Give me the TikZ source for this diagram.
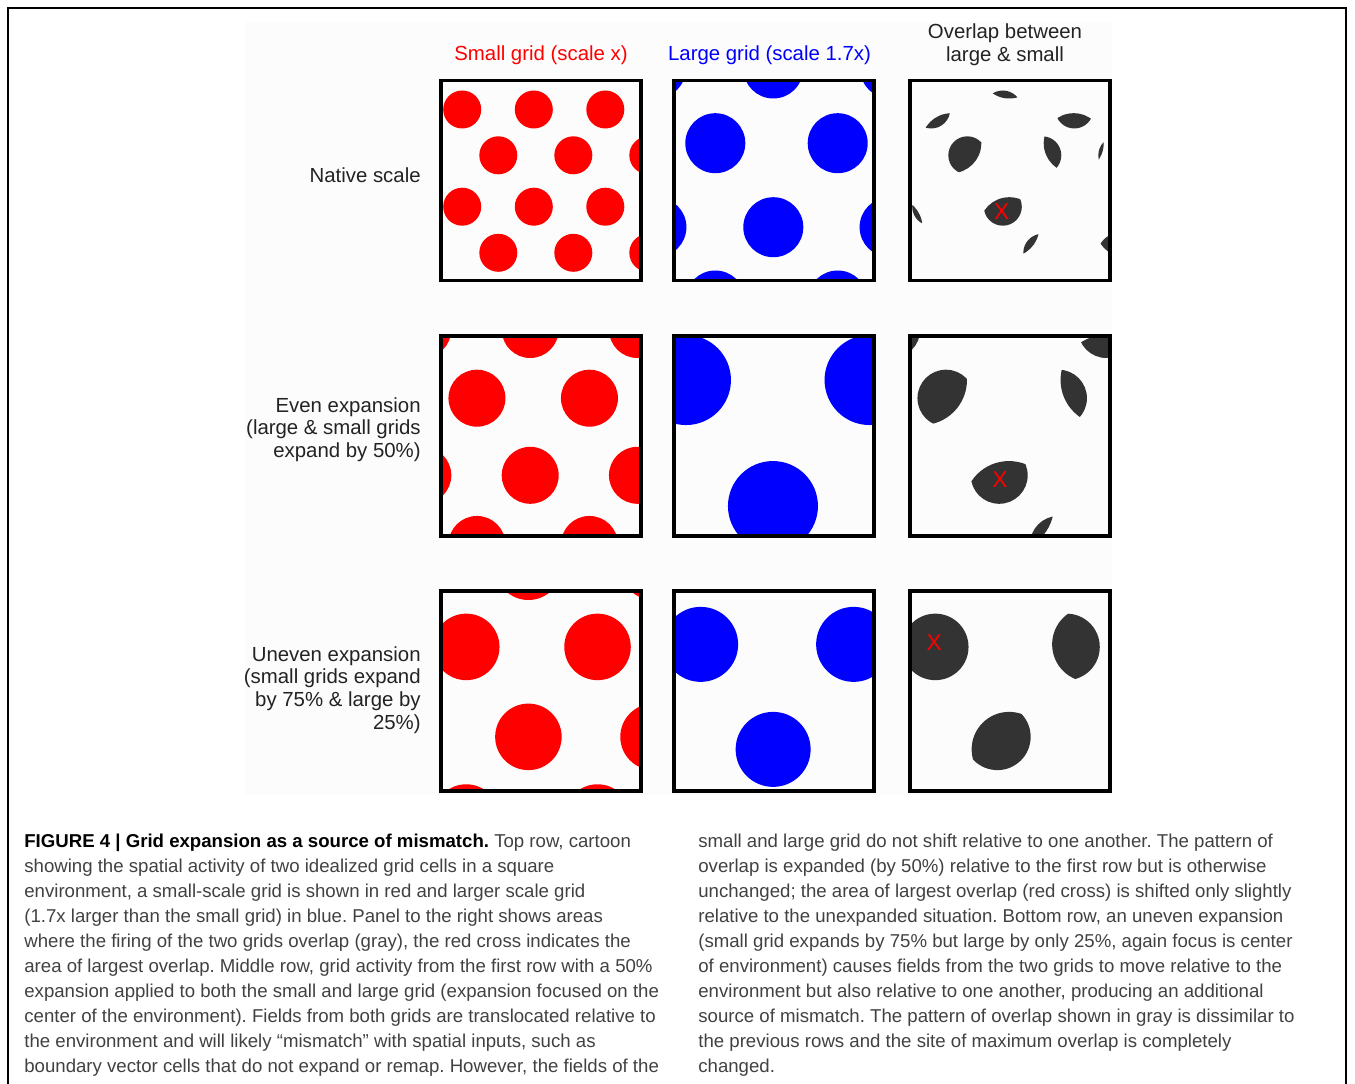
\documentclass[tikz,border=0pt]{standalone}
\usepackage{fontspec}
\setmainfont{Liberation Sans}
\usetikzlibrary{positioning}
\definecolor{gridred}{RGB}{255,0,0}
\definecolor{gridblue}{RGB}{0,0,255}
\definecolor{ovgray}{RGB}{51,51,51}
\definecolor{inkgray}{RGB}{35,35,35}
\definecolor{capgray}{RGB}{65,65,65}
\definecolor{figbg}{RGB}{252,252,252}
\frenchspacing
% field centres of the top row, in panel pixels (panel is 200 x 200)
\newcommand\redfields{21.2/29,92.8/29,164.3/29,57.3/74.8,132.3/74.8,207.3/74.8,21.2/126.2,92.8/126.2,164.3/126.2,57.3/172.3,132.3/172.3,207.3/172.3}
\newcommand\bluefields{-18/-12,99.3/-12,216/-12,41.3/62.7,163.7/62.7,-17.6/146.7,99.3/146.7,215.6/146.7,41.3/220,163.7/220}

\begin{document}
\begin{tikzpicture}[x=0.02cm,y=-0.02cm,
    panel/.style={draw=black,line width=2.27pt},
    head/.style={align=center,inner sep=0pt,font=\fontsize{11.6}{12.9}\selectfont},
    rowlabel/.style={anchor=east,align=right,inner sep=0pt,text=inkgray,font=\fontsize{11.6}{12.9}\selectfont},
    captext/.style={anchor=north west,align=left,inner sep=0pt,text=capgray,font=\fontsize{10.6}{14.23}\selectfont},
    cross/.style={inner sep=0pt,text=gridred,font=\fontsize{13}{13}\selectfont}]
  \useasboundingbox (0,0) rectangle (1355,1084);
  \fill[figbg] (245,22) rectangle (1112,795);
  \draw[line width=1.4pt] (8,1084) -- (8,8) -- (1346,8) -- (1346,1084);

  % one row per expansion: top / small grid scale / large grid scale
  \foreach \ty/\rs/\bs in {80.5/1/1,336/1.5/1.5,591/1.75/1.25}{
    % small grid
    \begin{scope}
      \clip (441,\ty) rectangle +(200,200);
      \begin{scope}[shift={(541,\ty+100)},scale=\rs]
        \foreach \x/\y in \redfields
          \fill[gridred] (\x-100,\y-100) circle (19);
      \end{scope}
    \end{scope}
    % large grid
    \begin{scope}
      \clip (674,\ty) rectangle +(200,200);
      \begin{scope}[shift={(774,\ty+100)},scale=\bs]
        \foreach \x/\y in \bluefields
          \fill[gridblue] (\x-100,\y-100) circle (30);
      \end{scope}
    \end{scope}
    % overlap = small fields clipped by large fields
    \begin{scope}
      \clip (910,\ty) rectangle +(200,200);
      \begin{scope}[shift={(1010,\ty+100)}]
        \foreach \bx/\by in \bluefields{
          \begin{scope}
            \clip ({\bs*(\bx-100)},{\bs*(\by-100)}) circle ({30*\bs});
            \foreach \x/\y in \redfields
              \fill[ovgray] ({\rs*(\x-100)},{\rs*(\y-100)}) circle ({19*\rs});
          \end{scope}
        }
      \end{scope}
    \end{scope}
    \draw[panel] (441,\ty) rectangle +(200,200);
    \draw[panel] (674,\ty) rectangle +(200,200);
    \draw[panel] (910,\ty) rectangle +(200,200);
  }

  \node[cross] (cross1) at (1001.7,211.7) {X};
  \node[cross] (cross2) at (1000,480) {X};
  \node[cross] (cross3) at (934.3,642.7) {X};

  \node[head,text=gridred] (smallhead) at (541,55) {Small grid (scale x)};
  \node[head,text=gridblue] (largehead) at (769.5,55) {Large grid (scale 1.7x)};
  \node[head,text=inkgray] (overhead) at (1005,44.5) {Overlap between\\large \& small};

  \node[rowlabel] (native) at (421,175) {Native scale};
  \node[rowlabel] (even) at (421,429.5) {Even expansion\\(large \& small grids\\expand by 50\%)};
  \node[rowlabel] (uneven) at (421,690) {Uneven expansion\\(small grids expand\\by 75\% \& large by\\25\%)};

  \node[captext] (capleft) at (24,834) {\textcolor{black}{\bfseries FIGURE 4 | Grid expansion as a source of mismatch.} Top row, cartoon\\
    showing the spatial activity of two idealized grid cells in a square\\
    environment, a small-scale grid is shown in red and larger scale grid\\
    (1.7x larger than the small grid) in blue. Panel to the right shows areas\\
    where the firing of the two grids overlap (gray), the red cross indicates the\\
    area of largest overlap. Middle row, grid activity from the first row with a 50\%\\
    expansion applied to both the small and large grid (expansion focused on the\\
    center of the environment). Fields from both grids are translocated relative to\\
    the environment and will likely “mismatch” with spatial inputs, such as\\
    boundary vector cells that do not expand or remap. However, the fields of the};
  \node[captext] (capright) at (698,834) {small and large grid do not shift relative to one another. The pattern of\\
    overlap is expanded (by 50\%) relative to the first row but is otherwise\\
    unchanged; the area of largest overlap (red cross) is shifted only slightly\\
    relative to the unexpanded situation. Bottom row, an uneven expansion\\
    (small grid expands by 75\% but large by only 25\%, again focus is center\\
    of environment) causes fields from the two grids to move relative to the\\
    environment but also relative to one another, producing an additional\\
    source of mismatch. The pattern of overlap shown in gray is dissimilar to\\
    the previous rows and the site of maximum overlap is completely\\
    changed.};
\end{tikzpicture}
\end{document}
